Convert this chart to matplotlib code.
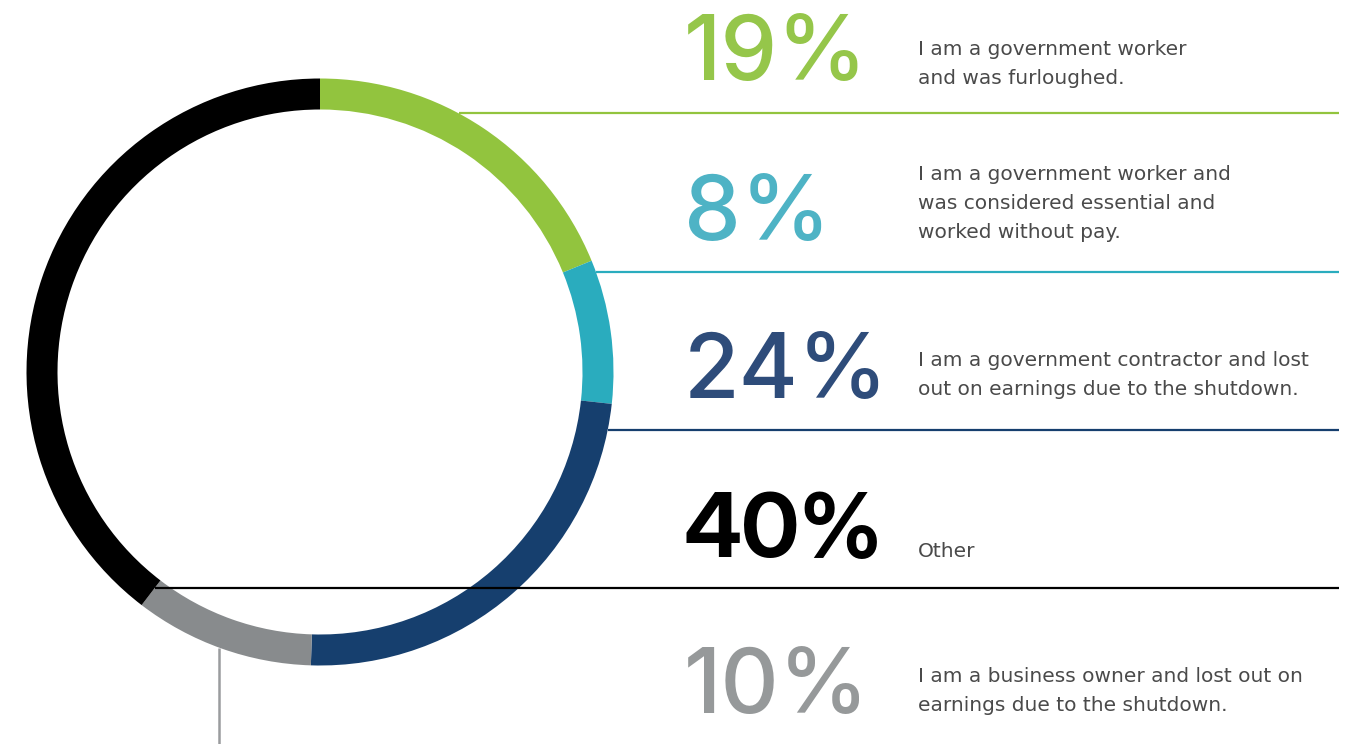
import matplotlib
matplotlib.use("Agg")
import matplotlib.pyplot as plt
from matplotlib import font_manager
from matplotlib.patches import Wedge

# Survey shares, in ring order (clockwise from 12 o'clock)
categories = ["furloughed", "essential", "contractor", "business", "other"]
shares = [19, 8, 24, 10, 40]
ring_colors = ["#92C43E", "#2AACBE", "#163F6E", "#888B8D", "#000000"]
number_colors = ["#95C64A", "#4EB3C5", "#2E4C7A", "#96999A", "#000000"]
descriptions = [
    "I am a government worker\nand was furloughed.",
    "I am a government worker and\nwas considered essential and\nworked without pay.",
    "I am a government contractor and lost\nout on earnings due to the shutdown.",
    "I am a business owner and lost out on\nearnings due to the shutdown.",
    "Other",
]


def font_file(basename, family, weight):
    """Use a specific static font file when present."""
    for f in font_manager.fontManager.ttflist:
        if f.fname.endswith(basename):
            return font_manager.FontProperties(fname=f.fname)
    return font_manager.FontProperties(family=family, weight=weight)


W, H = 1352, 744
fig = plt.figure(figsize=(W / 100, H / 100), dpi=100)
ax = fig.add_axes([0, 0, 1, 1])
ax.set_xlim(0, W)
ax.set_ylim(H, 0)
ax.axis("off")

# donut geometry (pixel units)
cx, cy = 320, 372
r_out, ring_w = 293.5, 31

total = sum(shares)
start = -90.0
for val, col in zip(shares, ring_colors):
    sweep = val / total * 360
    ax.add_patch(Wedge((cx, cy), r_out, start, start + sweep, width=ring_w,
                       facecolor=col, edgecolor="none", zorder=3))
    start += sweep

# divider rules: (y, x_start, colour, zorder)
rules = [
    (113, 459, ring_colors[0], 2),
    (272, 596, ring_colors[1], 2),
    (430, 608, ring_colors[2], 2),
    (588, 155, "#000000", 4),
]
for y, x0, col, z in rules:
    ax.plot([x0, 1339], [y, y], color=col, lw=1.6, zorder=z,
            solid_capstyle="butt")
# stem under the grey slice
ax.plot([219, 219], [648, H], color="#9A9C9E", lw=1.8, zorder=2,
        solid_capstyle="butt")

# text rows: (category index, number baseline, first description baseline)
rows = [(0, 80, 55), (1, 240, 180), (2, 398, 366), (4, 557, 557), (3, 713, 682)]
fp_num = font_file("Inter-Medium.otf", "Inter", 500)
fp_big = font_file("InterDisplay-Bold.otf", "Inter", 700)
for idx, nb, db in rows:
    if categories[idx] == "other":
        fp = fp_big.copy()
        fp.set_size(64)
    else:
        fp = fp_num.copy()
        fp.set_size(65)
    ax.text(684, nb, f"{shares[idx]}%", color=number_colors[idx],
            fontproperties=fp, ha="left", va="baseline", zorder=5)
    for k, line in enumerate(descriptions[idx].split("\n")):
        ax.text(918, db + 29 * k, line, color="#4A4A4A", fontsize=14.5,
                family=["DejaVu Sans"], fontweight="normal",
                ha="left", va="baseline", zorder=5)

fig.savefig("out.png", dpi=100, facecolor="white")
